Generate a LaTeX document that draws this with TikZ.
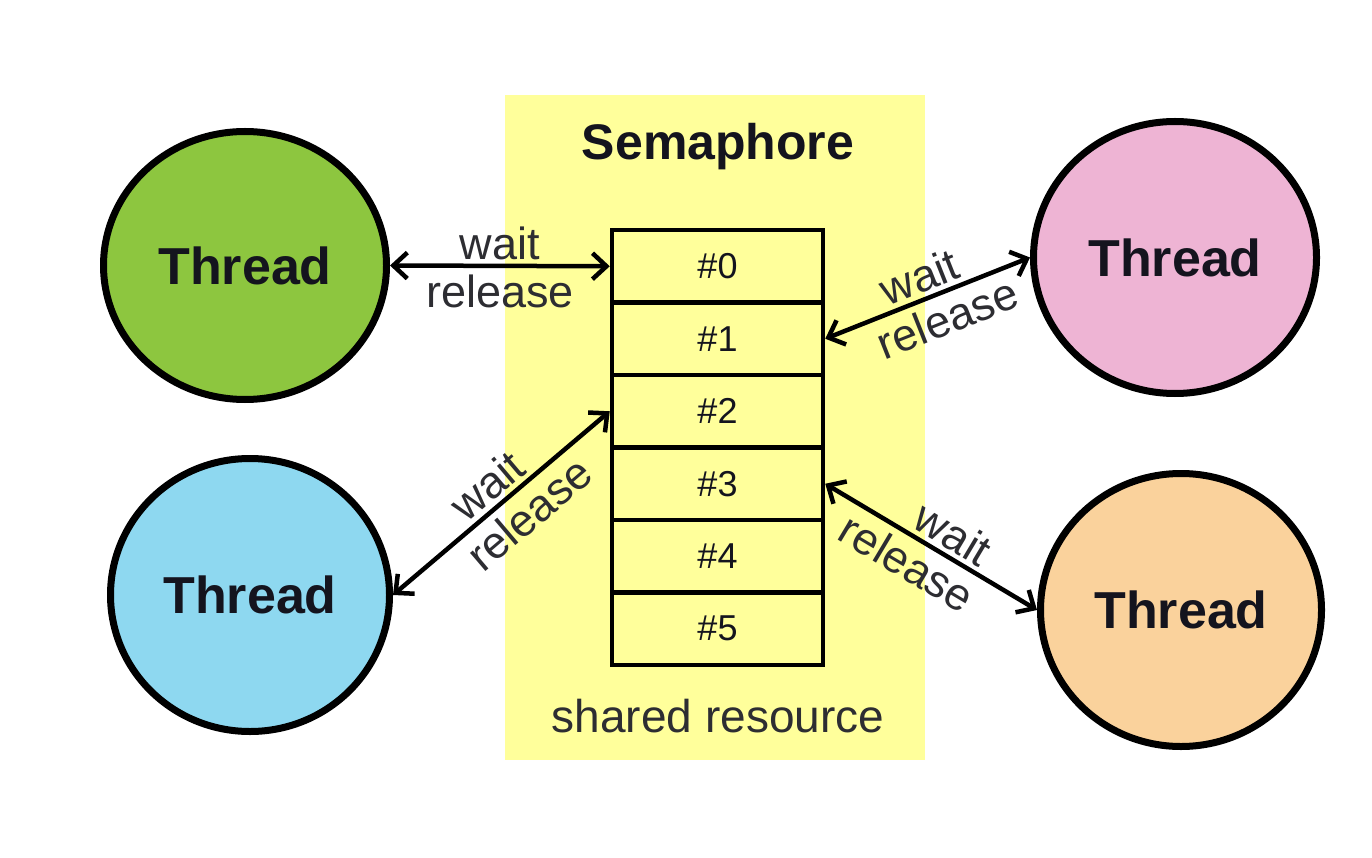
\documentclass[tikz,border=0pt]{standalone}
\usepackage{fontspec}
\setmainfont{Liberation Sans}
\usetikzlibrary{arrows.meta,shapes.geometric}
\definecolor{semyellow}{RGB}{255,255,155}
\definecolor{tgreen}{RGB}{141,198,63}
\definecolor{tblue}{RGB}{142,216,240}
\definecolor{tpink}{RGB}{238,180,212}
\definecolor{torange}{RGB}{250,210,156}
\definecolor{textdark}{RGB}{20,20,30}
\definecolor{labelgray}{RGB}{45,45,50}
\begin{document}
\begin{tikzpicture}[x=1pt,y=-1pt,
  thread/.style={ellipse, draw=black, line width=7pt, inner sep=0pt,
    font=\fontsize{52}{60}\selectfont\bfseries, text=textdark},
  slot/.style={rectangle, draw=black, line width=4.5pt, minimum width=211pt,
    minimum height=72.5pt, inner sep=0pt, font=\fontsize{36}{40}\selectfont, text=textdark},
  dbl/.style={{Straight Barb[length=14pt,width=26pt]}-{Straight Barb[length=14pt,width=26pt]}, line width=4.5pt},
  lbl/.style={font=\fontsize{45}{50}\selectfont, text=labelgray, inner sep=1pt}
]
\useasboundingbox (0,0) rectangle (1372,858);
\fill[semyellow] (505,95) rectangle (925,760);
\node[font=\fontsize{50}{60}\selectfont\bfseries, text=textdark] (title) at (718,147) {Semaphore};
\node[font=\fontsize{46}{50}\selectfont, text=labelgray] (shared) at (718,716) {shared resource};

\node[slot] (s0) at (717.5,266.25) {\#0};
\node[slot] (s1) at (717.5,338.75) {\#1};
\node[slot] (s2) at (717.5,411.25) {\#2};
\node[slot] (s3) at (717.5,483.75) {\#3};
\node[slot] (s4) at (717.5,556.25) {\#4};
\node[slot] (s5) at (717.5,628.75) {\#5};

\node[thread, fill=tgreen, minimum width=283pt, minimum height=268pt] (g) at (245,265.5) {Thread};
\node[thread, fill=tblue, minimum width=279pt, minimum height=273pt] (b) at (250,595) {Thread};
\node[thread, fill=tpink, minimum width=283pt, minimum height=272pt] (p) at (1175,257.5) {Thread};
\node[thread, fill=torange, minimum width=281pt, minimum height=273pt] (o) at (1181,610) {Thread};

\draw[dbl] (g.east) -- (s0.west)
  node[midway, above=3pt, lbl] {wait}
  node[midway, below=6pt, lbl] {release};
\draw[dbl] (s1.east) -- (p.west)
  node[midway, sloped, above=3pt, lbl] {wait}
  node[pos=0.55, sloped, below=6pt, lbl] {release};
\draw[dbl] (b.east) -- (s2.west)
  node[midway, sloped, above=3pt, lbl] {wait}
  node[pos=0.55, sloped, below=6pt, lbl] {release};
\draw[dbl] (s3.east) -- (o.west)
  node[pos=0.55, sloped, above=3pt, lbl] {wait}
  node[pos=0.45, sloped, below=6pt, lbl] {release};
\end{tikzpicture}
\end{document}
